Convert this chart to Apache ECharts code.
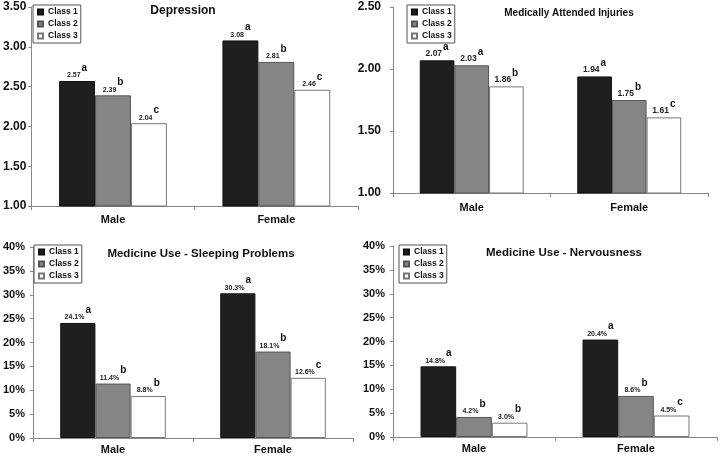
<!DOCTYPE html>
<html>
<head>
<meta charset="utf-8">
<script src="https://cdn.jsdelivr.net/npm/echarts@6/dist/echarts.min.js"></script>
<style>
  html, body { margin: 0; padding: 0; background: #fff; }
  #main { width: 720px; height: 461px; }
</style>
</head>
<body>
<div id="main"></div>
<script>
// categories and classes
var categories = ['Male', 'Female'];
var classNames = ['Class 1', 'Class 2', 'Class 3'];

// Depression (mean score)
var depC1 = [2.57, 3.08];
var depC2 = [2.39, 2.81];
var depC3 = [2.04, 2.46];
var depSig = [['a', 'a'], ['b', 'b'], ['c', 'c']];

// Medically attended injuries
var injC1 = [2.07, 1.94];
var injC2 = [2.03, 1.75];
var injC3 = [1.86, 1.61];
var injSig = [['a', 'a'], ['a', 'b'], ['b', 'c']];

// Medicine use - sleeping problems (%)
var slpC1 = [24.1, 30.3];
var slpC2 = [11.4, 18.1];
var slpC3 = [8.8, 12.6];
var slpSig = [['a', 'a'], ['b', 'b'], ['b', 'c']];

// Medicine use - nervousness (%)
var nrvC1 = [14.8, 20.4];
var nrvC2 = [4.2, 8.6];
var nrvC3 = [3.0, 4.5];
var nrvSig = [['a', 'a'], ['b', 'b'], ['b', 'c']];

var titles = ['Depression', 'Medically Attended Injuries',
  'Medicine Use - Sleeping Problems', 'Medicine Use - Nervousness'];

// panel layout
var panels = [
  { grid: {left: 30, right: 362, top: 7, bottom: 255}, y: [1, 3.5, 0.5], pct: false,
    data: [depC1, depC2, depC3], sig: depSig, title: {x: 183, y: 5, size: 12},
    legend: {x: 33, y: 5}, valSize: 7, yMargin: 5, yFont: 12, xMargin: 8 },
  { grid: {left: 393, right: 12, top: 7, bottom: 268}, y: [1, 2.5, 0.5], pct: false,
    data: [injC1, injC2, injC3], sig: injSig, title: {x: 569, y: 8, size: 10},
    legend: {x: 407, y: 5}, valSize: 8.5, yMargin: 12, yFont: 12, xMargin: 9 },
  { grid: {left: 30, right: 367, top: 247, bottom: 23}, y: [0, 40, 5], pct: true,
    data: [slpC1, slpC2, slpC3], sig: slpSig, title: {x: 201, y: 248, size: 11.5},
    legend: {x: 34, y: 245}, valSize: 7, yMargin: 8, yFont: 11, xMargin: 6 },
  { grid: {left: 393, right: 3, top: 246, bottom: 24}, y: [0, 40, 5], pct: true,
    data: [nrvC1, nrvC2, nrvC3], sig: nrvSig, title: {x: 564, y: 247, size: 11.5},
    legend: {x: 399, y: 245}, valSize: 7, yMargin: 8, yFont: 11, xMargin: 6 }
];

var barStyles = [
  { color: '#1f1f1f', borderColor: '#111', borderWidth: 1 },
  { color: '#858585', borderColor: '#555', borderWidth: 1 },
  { color: '#ffffff', borderColor: '#777', borderWidth: 1 }
];

var option = {
  animation: false,
  backgroundColor: '#fff',
  textStyle: { fontFamily: 'Liberation Sans, Arial, sans-serif' },
  title: [], legend: [], grid: [], xAxis: [], yAxis: [], series: []
};

panels.forEach(function (p, i) {
  option.title.push({
    text: titles[i], left: p.title.x, top: p.title.y, textAlign: 'center', padding: 0,
    textStyle: { fontSize: p.title.size, fontWeight: 'bold', color: '#111' }
  });
  option.legend.push({
    data: classNames, orient: 'vertical', left: p.legend.x, top: p.legend.y,
    padding: [2, 3, 2, 4], itemGap: 2, itemWidth: 5, itemHeight: 5, icon: 'rect',
    borderColor: '#555', borderWidth: 1, selectedMode: false,
    textStyle: { fontSize: 8.5, fontWeight: 'bold', color: '#111', lineHeight: 10 }
  });
  option.grid.push(p.grid);
  option.xAxis.push({
    type: 'category', gridIndex: i, data: categories,
    axisLine: { lineStyle: { color: '#888' } },
    axisTick: { show: true, length: 4, lineStyle: { color: '#888' } },
    axisLabel: { fontSize: 11, fontWeight: 'bold', color: '#111', margin: p.xMargin }
  });
  option.yAxis.push({
    type: 'value', gridIndex: i, min: p.y[0], max: p.y[1], interval: p.y[2],
    splitLine: { show: false },
    axisLine: { show: true, lineStyle: { color: '#888' } },
    axisTick: { show: true, length: 3, lineStyle: { color: '#888' } },
    axisLabel: {
      fontSize: p.yFont, fontWeight: 'bold', color: '#111', margin: p.yMargin,
      formatter: p.pct ? function (v) { return v + '%'; } : function (v) { return v.toFixed(2); }
    }
  });
  p.data.forEach(function (vals, k) {
    option.series.push({
      name: classNames[k], type: 'bar', xAxisIndex: i, yAxisIndex: i,
      data: vals, barGap: '0%', barCategoryGap: '34%',
      itemStyle: barStyles[k],
      label: {
        show: true, position: 'top', distance: 2,
        formatter: function (prm) {
          var txt = p.pct ? prm.value.toFixed(1) + '%' : prm.value.toFixed(2);
          return '{v|' + txt + '}{s|' + p.sig[k][prm.dataIndex] + '}';
        },
        rich: {
          v: { fontSize: p.valSize, fontWeight: 'bold', color: '#222', verticalAlign: 'bottom' },
          s: { fontSize: 10, fontWeight: 'bold', color: '#111', verticalAlign: 'bottom', padding: [0, 0, 6, 1] }
        }
      }
    });
  });
});

var chart = echarts.init(document.getElementById('main'));
chart.setOption(option);
</script>
</body>
</html>
